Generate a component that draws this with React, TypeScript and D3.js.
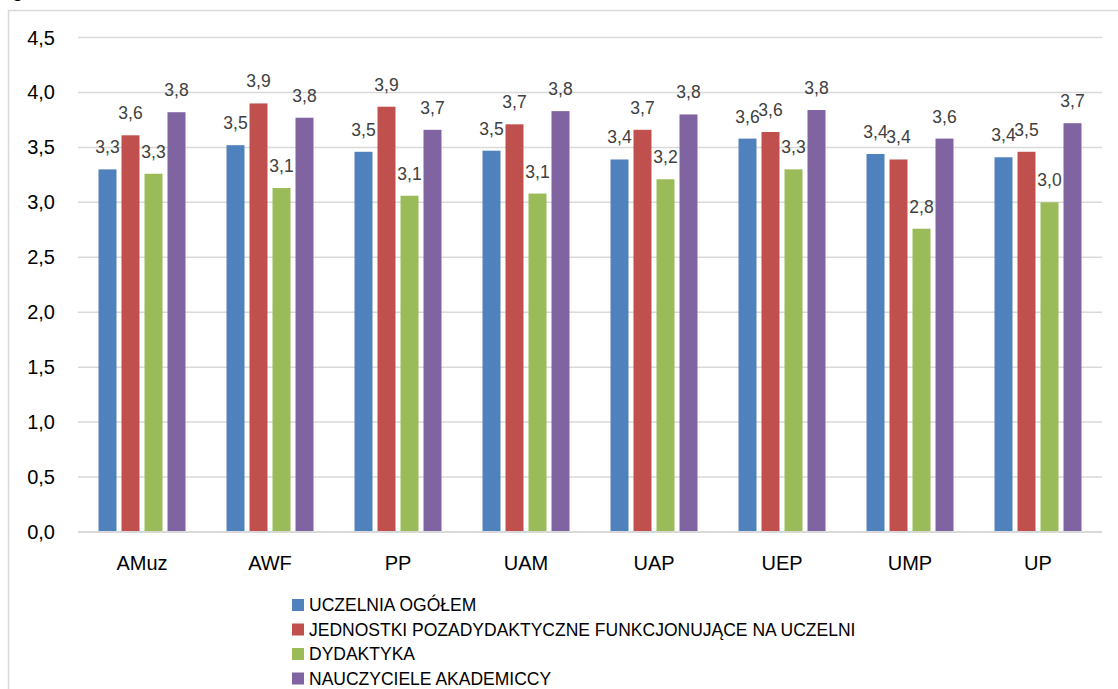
import { useEffect, useRef } from "react";
import * as d3 from "d3";

const categories = ["AMuz", "AWF", "PP", "UAM", "UAP", "UEP", "UMP", "UP"];
const seriesNames = [
  "UCZELNIA OGÓŁEM",
  "JEDNOSTKI POZADYDAKTYCZNE FUNKCJONUJĄCE NA UCZELNI",
  "DYDAKTYKA",
  "NAUCZYCIELE AKADEMICCY",
];
const seriesColors = ["#4f81bd", "#c0504d", "#9bbb59", "#8064a2"];

const uczelniaOgolem = [3.3, 3.52, 3.46, 3.47, 3.39, 3.58, 3.44, 3.41];
const jednostkiPozadydaktyczne = [3.61, 3.9, 3.87, 3.71, 3.66, 3.64, 3.39, 3.46];
const dydaktyka = [3.26, 3.13, 3.06, 3.08, 3.21, 3.3, 2.76, 3.0];
const nauczycieleAkademiccy = [3.82, 3.77, 3.66, 3.83, 3.8, 3.84, 3.58, 3.72];

const yTicks = [0, 0.5, 1, 1.5, 2, 2.5, 3, 3.5, 4, 4.5];

const W = 1118;
const H = 689;

const fmt = (v: number) => d3.format(".1f")(v).replace(".", ",");

const App = () => {
  const ref = useRef<SVGSVGElement | null>(null);

  useEffect(() => {
    if (!ref.current) return;
    const svg = d3.select(ref.current);
    svg.selectAll("*").remove();

    const values = [uczelniaOgolem, jednostkiPozadydaktyczne, dydaktyka, nauczycieleAkademiccy];

    const x0 = d3.scaleBand().domain(categories).range([78, 1102]).padding(0);
    const y = d3.scaleLinear().domain([0, 4.5]).range([532, 37.5]);
    const groupW = 92;
    const x1 = d3
      .scaleBand()
      .domain(seriesNames)
      .range([0, groupW])
      .paddingInner(5 / 23)
      .paddingOuter(5 / 46);

    // ramka
    svg
      .append("path")
      .attr("d", `M8.5,${H} L8.5,10.5 L${W},10.5`)
      .attr("fill", "none")
      .attr("stroke", "#d9d9d9")
      .attr("stroke-width", 1.5);

    // ucięty tytuł
    svg
      .append("text")
      .attr("x", 12)
      .attr("y", -3)
      .attr("font-family", "Liberation Sans, Arial, sans-serif")
      .attr("font-size", 20)
      .attr("fill", "#000")
      .text("g");

    // siatka
    svg
      .append("g")
      .selectAll("line")
      .data(yTicks)
      .enter()
      .append("line")
      .attr("x1", 78)
      .attr("x2", 1102)
      .attr("y1", d => y(d))
      .attr("y2", d => y(d))
      .attr("stroke", "#d9d9d9")
      .attr("stroke-width", 1.5);

    svg
      .append("g")
      .selectAll("text")
      .data(yTicks)
      .enter()
      .append("text")
      .attr("x", 55)
      .attr("y", d => y(d))
      .attr("dy", "0.35em")
      .attr("text-anchor", "end")
      .attr("font-family", "Liberation Sans, Arial, sans-serif")
      .attr("font-size", 20)
      .attr("fill", "#000")
      .text(d => fmt(d));

    // słupki
    const groups = svg
      .append("g")
      .selectAll("g")
      .data(categories)
      .enter()
      .append("g")
      .attr("transform", d => `translate(${x0(d)! + x0.bandwidth() / 2 - groupW / 2},0)`);

    seriesNames.forEach((s, si) => {
      groups
        .append("rect")
        .attr("x", x1(s)!)
        .attr("width", x1.bandwidth())
        .attr("y", (_, i) => y(values[si][i]))
        .attr("height", (_, i) => 532 - y(values[si][i]))
        .attr("fill", seriesColors[si]);
    });

    seriesNames.forEach((s, si) => {
      groups
        .append("text")
        .attr("x", x1(s)! + x1.bandwidth() / 2)
        .attr("y", (_, i) => y(values[si][i]) - 16)
        .attr("text-anchor", "middle")
        .attr("font-family", "Liberation Sans, Arial, sans-serif")
        .attr("font-size", 17.5)
        .attr("fill", "#404040")
        .text((_, i) => fmt(values[si][i]));
    });

    // oś X
    svg
      .append("line")
      .attr("x1", 78)
      .attr("x2", 1102)
      .attr("y1", 532)
      .attr("y2", 532)
      .attr("stroke", "#d9d9d9")
      .attr("stroke-width", 2);

    svg
      .append("g")
      .selectAll("text")
      .data(categories)
      .enter()
      .append("text")
      .attr("x", d => x0(d)! + x0.bandwidth() / 2)
      .attr("y", 563)
      .attr("dy", "0.35em")
      .attr("text-anchor", "middle")
      .attr("font-family", "Liberation Sans, Arial, sans-serif")
      .attr("font-size", 20)
      .attr("fill", "#000")
      .text(d => d);

    // legenda
    const legend = svg
      .append("g")
      .selectAll("g")
      .data(seriesNames)
      .enter()
      .append("g")
      .attr("transform", (_, i) => `translate(292,${605 + i * 24.5})`);

    legend
      .append("rect")
      .attr("x", 0)
      .attr("y", -6)
      .attr("width", 12)
      .attr("height", 12)
      .attr("fill", (_, i) => seriesColors[i]);

    legend
      .append("text")
      .attr("x", 17)
      .attr("y", 0)
      .attr("dy", "0.35em")
      .attr("font-family", "Liberation Sans, Arial, sans-serif")
      .attr("font-size", 17.5)
      .attr("fill", "#000")
      .text(d => d);
  }, []);

  return (
    <svg
      ref={ref}
      width={W}
      height={H}
      viewBox={`0 0 ${W} ${H}`}
      style={{ position: "absolute", left: 0, top: 0, background: "#fff" }}
    />
  );
};

export default App;
